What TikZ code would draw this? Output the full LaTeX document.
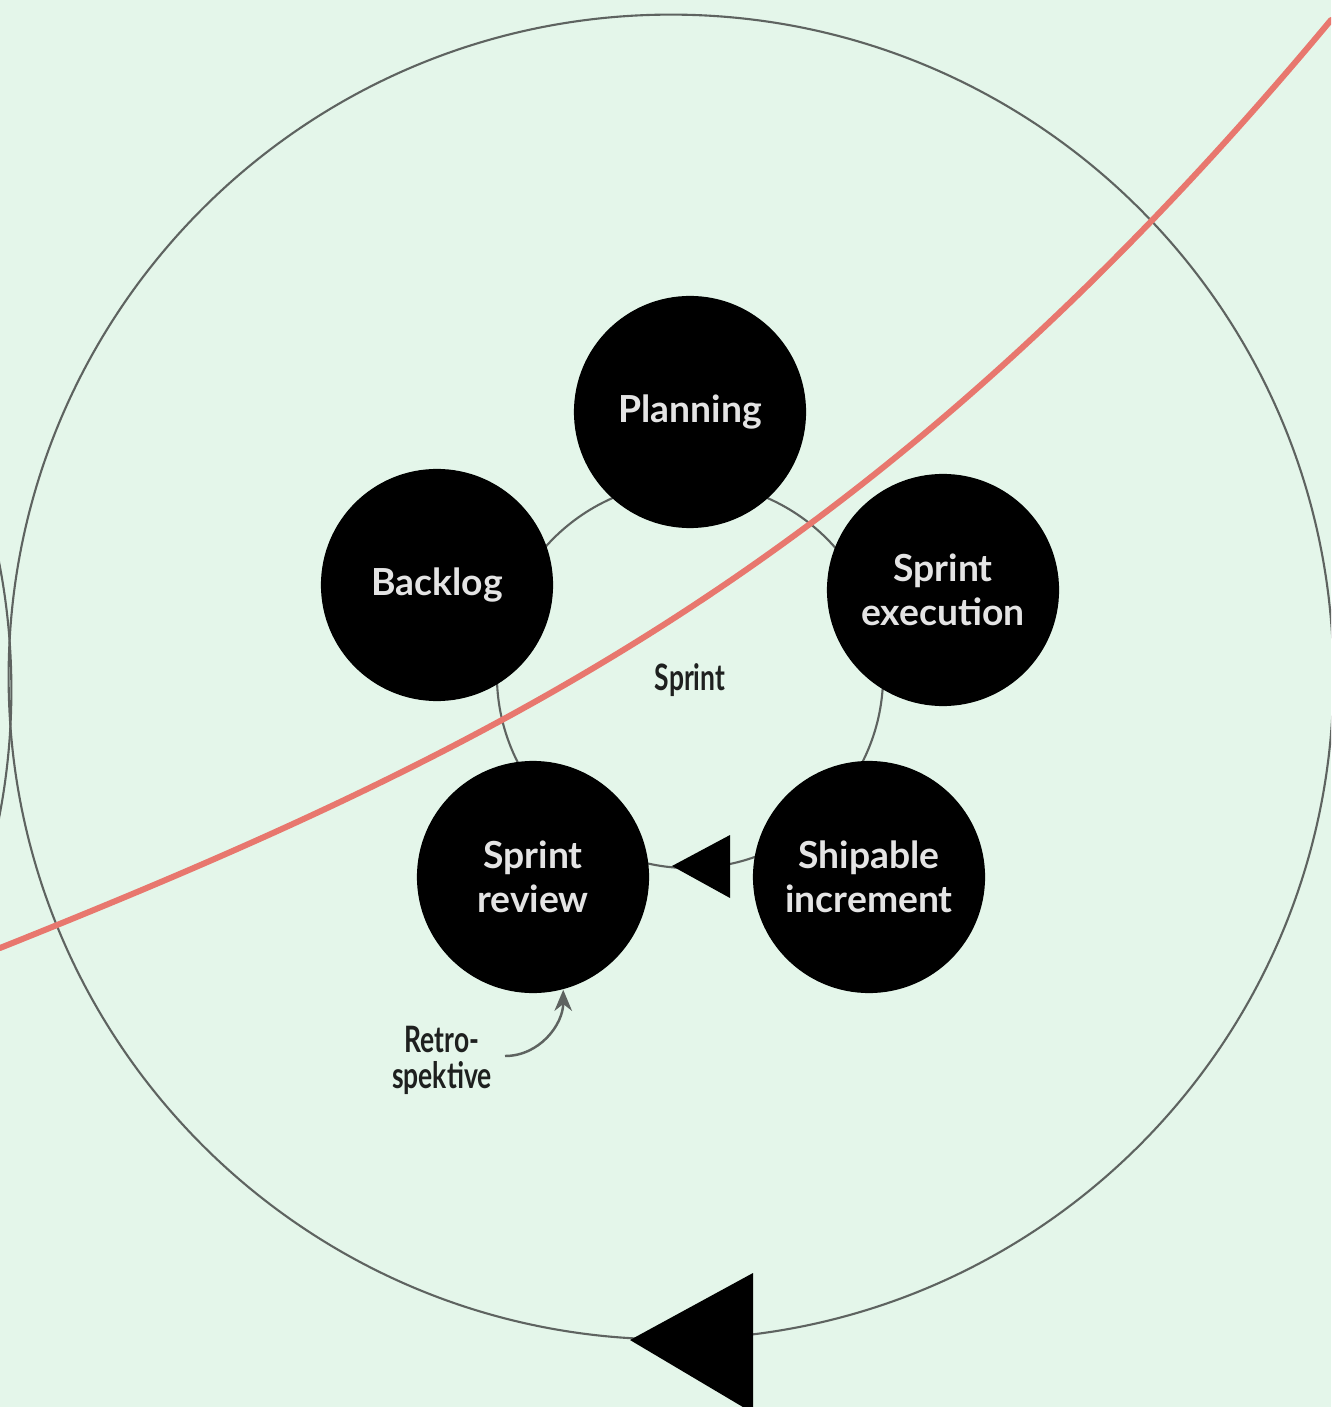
\documentclass[tikz,border=0pt]{standalone}
\usepackage{fontspec}
\setmainfont{Lato}
\usetikzlibrary{arrows.meta}
\definecolor{bg}{HTML}{E4F6EA}
\definecolor{redline}{HTML}{E8776E}
\definecolor{ringgray}{HTML}{5E6360}
\definecolor{nodetext}{HTML}{E4E4E4}
\definecolor{handtext}{HTML}{1E201F}
\begin{document}
\begin{tikzpicture}[x=0.01cm,y=-0.01cm,
  phase/.style={circle,fill=black,minimum size=2.32cm,inner sep=0pt,text=nodetext,
    font=\fontsize{10.6}{12.4}\selectfont\bfseries,align=center},
  thinline/.style={draw=ringgray,line width=0.6pt},
  hand/.style={text=handtext,font=\fontsize{9.4}{11.2}\selectfont\bfseries,align=center,inner sep=1pt},
  marker/.style={fill=black}]
\useasboundingbox (0,0) rectangle (1331,1407);
\clip (0,0) rectangle (1331,1407);
\fill[bg] (0,0) rectangle (1331,1407);
% outer cycle circles
\coordinate (bigc) at (671,677);
\coordinate (leftc) at (-651,690);
\draw[thinline] (bigc) circle (6.62cm);
\draw[thinline] (leftc) circle (6.62cm);
% inner sprint ring
\coordinate (ringc) at (690,675);
\draw[thinline] (ringc) circle (1.93cm);
% red growth curve
\coordinate (redstart) at (0,948);
\coordinate (redend) at (1331,20);
\draw[redline,line width=1.7pt,line cap=round]
  (redstart) .. controls (500,748) and (881,560) .. (redend);
% phases
\node[phase] (planning) at (690,412) {Planning};
\node[phase] (backlog) at (437,585) {Backlog};
\node[phase] (exec) at (943,590) {Sprint\\execution};
\node[phase] (review) at (533,877) {Sprint\\review};
\node[phase] (ship) at (869,877) {Shipable\\increment};
% direction markers
\coordinate (smalltip) at (672,866);
\fill[marker] (smalltip) -- ++(58,-31) -- ++(0,63) -- cycle;
\coordinate (bigtip) at (630,1340);
\fill[marker] (bigtip) -- ++(123,-67) -- ++(0,140) -- cycle;
% labels
\node[hand] (sprint) at (690,680) {\scalebox{0.8}[1.1]{Sprint}};
\node[hand] (retro) at (442,1060) {\scalebox{0.8}[1.1]{Retro-}\\[-1pt]\scalebox{0.8}[1.1]{spektive}};
\coordinate (retrostart) at (505,1056);
\draw[thinline,line width=0.7pt,-{Stealth[length=6pt,width=5pt]}]
  (retrostart) to[out=0,in=-90] (review.-75);
\end{tikzpicture}
\end{document}
